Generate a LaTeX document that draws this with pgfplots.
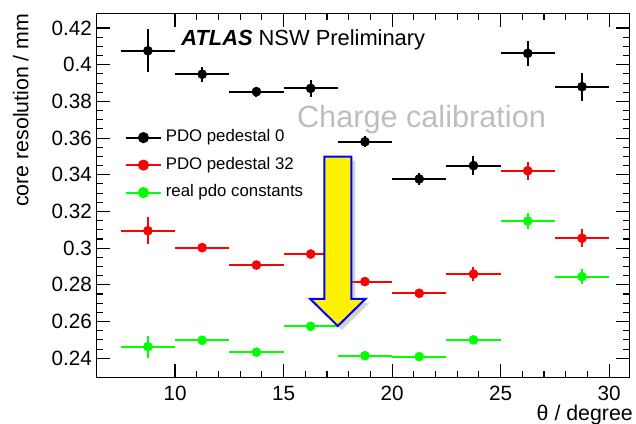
\documentclass[border=0pt]{standalone}
\usepackage{fontspec}
\setmainfont{Liberation Sans}
\usepackage{pgfplots}
\usepackage{pgfplotstable}
\pgfplotsset{compat=1.18}
\usetikzlibrary{shadows}

\pgfplotstableread{
x y ey
8.75 0.4076 0.0117
11.25 0.3948 0.0040
13.75 0.3853 0.0027
16.25 0.3871 0.0045
18.75 0.3580 0.0030
21.25 0.3377 0.0035
23.75 0.3450 0.0050
26.25 0.4062 0.0069
28.75 0.3880 0.0076
}\blackdata
\pgfplotstableread{
x y ey
8.75 0.3095 0.0073
11.25 0.3003 0.0020
13.75 0.2908 0.0020
16.25 0.2968 0.0020
18.75 0.2818 0.0020
21.25 0.2754 0.0020
23.75 0.2859 0.0040
26.25 0.3422 0.0050
28.75 0.3054 0.0050
}\reddata
\pgfplotstableread{
x y ey
8.75 0.2463 0.0060
11.25 0.2498 0.0020
13.75 0.2433 0.0020
16.25 0.2574 0.0020
18.75 0.2414 0.0020
21.25 0.2409 0.0020
23.75 0.2500 0.0020
26.25 0.3148 0.0044
28.75 0.2845 0.0040
}\greendata

\definecolor{rootgreen}{rgb}{0,1,0}
\definecolor{lgray}{RGB}{190,190,190}

\begin{document}
\begin{tikzpicture}
\begin{axis}[
  scale only axis, width=399.5pt, height=273pt,
  xmin=6.39, xmax=30.93, ymin=0.2296, ymax=0.428,
  xtick={10,15,20,25,30},
  minor x tick num=4,
  ytick={0.24,0.26,0.28,0.30,0.32,0.34,0.36,0.38,0.40,0.42},
  yticklabels={0.24,0.26,0.28,0.3,0.32,0.34,0.36,0.38,0.4,0.42},
  minor y tick num=3,
  major tick length=10pt, minor tick length=5pt,
  every tick/.style={line width=0.8pt, black},
  axis line style={line width=0.9pt},
  ticklabel style={font=\fontsize{15.5}{18}\selectfont},
  xticklabel style={yshift=-3pt},
  /pgf/number format/assume math mode=true,
  legend style={draw=none, fill=none, at={(rel axis cs:0.053,0.583)}, anchor=west,
    inner sep=0pt, row sep=8.9pt, font=\fontsize{12.6}{15}\selectfont,
    nodes={inner sep=0pt, text height=9pt, text depth=2.7pt}},
  legend cell align=left,
  legend image code/.code={
    \draw[#1, sharp plot, line width=1.5pt, mark repeat=2, mark phase=2] plot coordinates {(0pt,0pt) (13pt,0pt) (26pt,0pt)};
  },
  error bars/error bar style={line width=1.5pt},
  error bars/error mark=none,
]
\coordinate (sw) at (rel axis cs:0,0);
\coordinate (ne) at (rel axis cs:1,1);
\coordinate (nw) at (rel axis cs:0,1);
\coordinate (se) at (rel axis cs:1,0);

\addplot[black, only marks, mark=*, mark size=3.4pt,
  error bars/.cd, x dir=both, x fixed=1.25, y dir=both, y explicit]
  table[x=x, y=y, y error=ey] {\blackdata};
\addlegendentry{\hspace{3pt}PDO pedestal 0}
\addplot[red, only marks, mark=*, mark size=3.4pt,
  error bars/.cd, x dir=both, x fixed=1.25, y dir=both, y explicit]
  table[x=x, y=y, y error=ey] {\reddata};
\addlegendentry{\hspace{3pt}PDO pedestal 32}
\addplot[rootgreen, only marks, mark=*, mark size=3.4pt,
  error bars/.cd, x dir=both, x fixed=1.25, y dir=both, y explicit]
  table[x=x, y=y, y error=ey] {\greendata};
\addlegendentry{\hspace{3pt}real pdo constants}

\draw[blue, line width=1.5pt, fill=yellow, line join=miter,
  drop shadow={opacity=0.35, shadow xshift=3pt, shadow yshift=-3pt}]
  (axis cs:16.88,0.3499) -- (axis cs:18.12,0.3499) -- (axis cs:18.12,0.2723)
  -- (axis cs:18.77,0.2723) -- (axis cs:17.50,0.2576) -- (axis cs:16.23,0.2723)
  -- (axis cs:16.88,0.2723) -- cycle;

\node[anchor=west, inner sep=0pt, font=\fontsize{16.4}{19}\selectfont]
  at (axis cs:10.28,0.4135) {\textbf{\textit{ATLAS}} NSW Preliminary};
\node[anchor=west, inner sep=0pt, text=lgray, font=\fontsize{23}{27}\selectfont]
  at (axis cs:15.61,0.3700) {Charge calibration};
\end{axis}
\node[xshift=-57pt, rotate=90, anchor=east, inner sep=0pt, font=\fontsize{16}{19}\selectfont]
  at (nw) {core resolution / mm};
\node[anchor=east, inner sep=0pt, xshift=2.8pt, yshift=-28pt, font=\fontsize{16}{19}\selectfont]
  at (se) {θ / degree};
\pgfresetboundingbox
\path ([shift={(-72.5pt,-35pt)}]sw) rectangle ([shift={(5pt,10pt)}]ne);
\end{tikzpicture}
\end{document}
